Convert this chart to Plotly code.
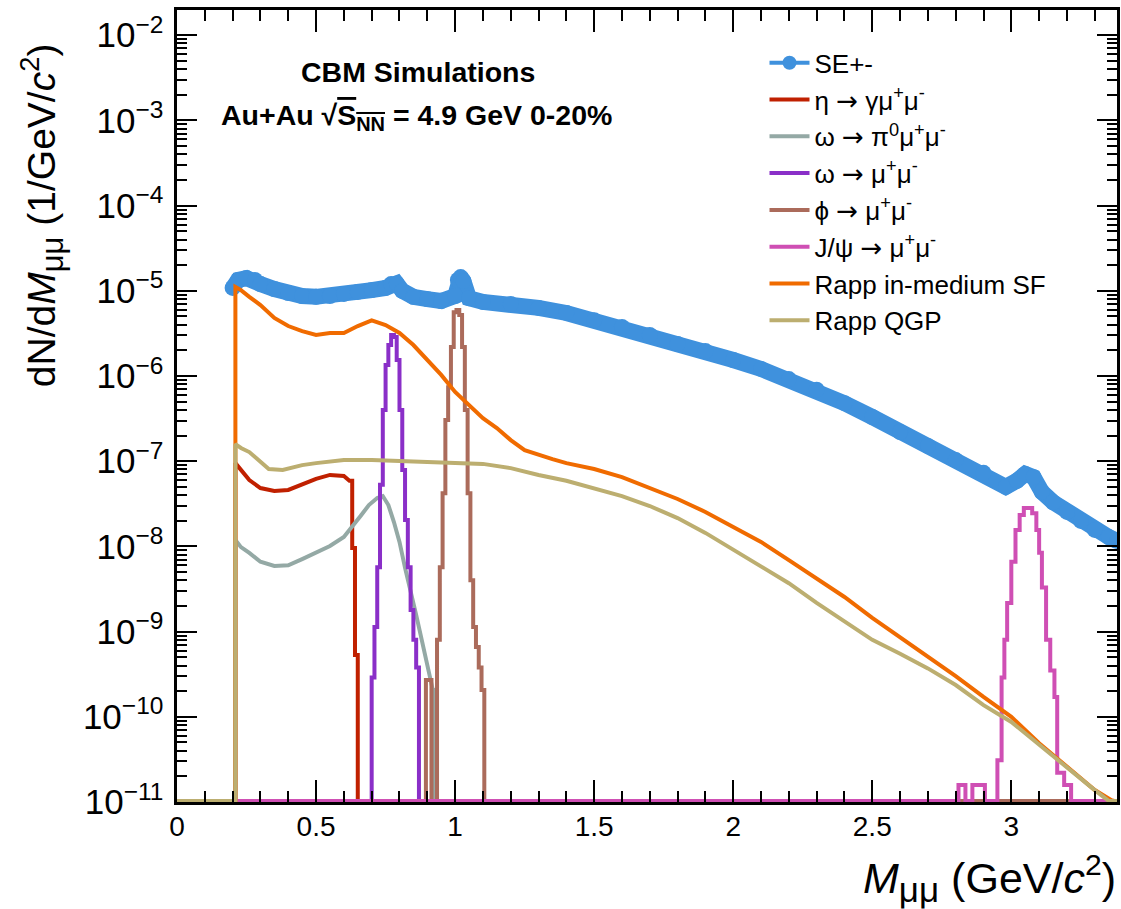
import numpy as np
import plotly.graph_objects as go

# ---------------- data ----------------
# SE+- (same-event unlike sign) spectrum
se_mass = [0.20, 0.22, 0.25, 0.28, 0.30, 0.35, 0.40, 0.45, 0.50, 0.55,
           0.60, 0.65, 0.70, 0.75, 0.77, 0.79, 0.81, 0.85, 0.90, 0.95,
           1.00, 1.01, 1.02, 1.03, 1.05, 1.10, 1.20, 1.30, 1.40, 1.50,
           1.60, 1.70, 1.80, 1.90, 2.00, 2.10, 2.20, 2.30, 2.40, 2.50,
           2.60, 2.70, 2.80, 2.90, 2.98, 3.02, 3.05, 3.08, 3.11, 3.15,
           3.20, 3.25, 3.30, 3.35, 3.38]
se_vals = [1.08e-5, 1.34e-5, 1.41e-5, 1.34e-5, 1.20e-5, 1.05e-5, 9.4e-6, 8.7e-6, 8.5e-6, 8.7e-6,
           9.2e-6, 9.7e-6, 1.02e-5, 1.08e-5, 1.20e-5, 1.22e-5, 1.0e-5, 8.5e-6, 8.0e-6, 7.6e-6,
           8.7e-6, 1.34e-5, 1.45e-5, 1.30e-5, 8.2e-6, 7.4e-6, 7.0e-6, 6.3e-6, 5.5e-6, 4.5e-6,
           3.76e-6, 3.03e-6, 2.38e-6, 1.96e-6, 1.54e-6, 1.21e-6, 9.2e-7, 6.9e-7, 4.8e-7, 3.3e-7,
           2.2e-7, 1.51e-7, 1.03e-7, 7.3e-8, 5.0e-8, 5.9e-8, 7.1e-8, 6.5e-8, 4.35e-8, 3.3e-8,
           2.54e-8, 1.99e-8, 1.56e-8, 1.29e-8, 1.16e-8]

# eta -> gamma mu mu
eta_mass = [0.0, 0.21, 0.21, 0.23, 0.26, 0.30, 0.35, 0.40, 0.45, 0.50,
            0.55, 0.60, 0.62, 0.63, 0.63, 0.64, 0.64, 0.65, 0.65, 3.40]
eta_vals = [0, 0, 9.5e-8, 7.9e-8, 6.0e-8, 4.84e-8, 4.47e-8, 4.6e-8, 5.3e-8, 6.2e-8,
            6.9e-8, 6.7e-8, 5.9e-8, 5.9e-8, 9.6e-9, 9.6e-9, 5.3e-10, 5.3e-10, 0, 0]

# omega -> pi0 mu mu
omd_mass = [0.0, 0.21, 0.21, 0.23, 0.26, 0.30, 0.35, 0.40, 0.45, 0.50,
            0.55, 0.60, 0.63, 0.66, 0.69, 0.72, 0.74, 0.76, 0.78, 0.80,
            0.82, 0.84, 0.86, 0.88, 0.90, 0.92, 0.925, 0.925, 3.40]
omd_vals = [0, 0, 1.19e-8, 9.8e-9, 8.4e-9, 6.6e-9, 5.9e-9, 6.0e-9, 7.1e-9, 8.4e-9,
            1.01e-8, 1.29e-8, 1.69e-8, 2.27e-8, 3.06e-8, 3.7e-8, 3.9e-8, 3.06e-8, 1.93e-8, 1.13e-8,
            5.6e-9, 3.1e-9, 1.57e-9, 8.0e-10, 4.1e-10, 2.06e-10, 2.06e-10, 0, 0]

# omega -> mu mu (bin edges, bin contents)
om_edges = [0.0, 0.70, 0.71, 0.72, 0.73, 0.74, 0.75, 0.76, 0.77, 0.78,
            0.79, 0.80, 0.81, 0.82, 0.83, 0.84, 0.85, 0.86, 0.87, 3.40]
om_vals = [0, 2.9e-10, 1.13e-9, 5.7e-9, 5.3e-8, 4.0e-7, 1.35e-6, 2.31e-6, 3.03e-6, 2.87e-6,
           1.54e-6, 4.0e-7, 7.9e-8, 2.04e-8, 5.7e-9, 1.79e-9, 8.0e-10, 3.8e-10, 0]

# phi -> mu mu
phi_edges = [0.0, 0.895, 0.915, 0.935, 0.945, 0.955, 0.965, 0.975, 0.985, 0.995,
             1.005, 1.015, 1.025, 1.035, 1.045, 1.055, 1.065, 1.075, 1.085, 1.095,
             1.105, 3.40]
phi_vals = [0, 2.7e-10, 0, 8.0e-10, 5.7e-9, 4.2e-8, 3.05e-7, 7.4e-7, 2.19e-6, 5.6e-6,
            5.96e-6, 5.2e-6, 2.19e-6, 4.0e-7, 4.2e-8, 4.0e-9, 1.13e-9, 6.6e-10, 3.8e-10, 2.06e-10,
            0]

# J/psi -> mu mu
jpsi_edges = [0.0, 2.81, 2.835, 2.86, 2.905, 2.95, 2.965, 2.975, 2.985, 3.0,
              3.015, 3.03, 3.045, 3.075, 3.09, 3.10, 3.11, 3.125, 3.14, 3.155,
              3.165, 3.19, 3.215, 3.40]
jpsi_vals = [0, 1.58e-11, 0, 1.58e-11, 0, 3.1e-11, 2.9e-10, 8.0e-10, 2.17e-9, 6.6e-9,
             1.56e-8, 2.34e-8, 2.82e-8, 2.45e-8, 1.56e-8, 8.4e-9, 3.3e-9, 8.0e-10, 3.5e-10, 1.71e-10,
             2.2e-11, 1.58e-11, 0]

# Rapp in-medium spectral function
sf_mass = [0.0, 0.21, 0.21, 0.23, 0.26, 0.30, 0.35, 0.40, 0.45, 0.50,
           0.55, 0.60, 0.65, 0.70, 0.75, 0.80, 0.85, 0.90, 0.95, 1.00,
           1.05, 1.10, 1.15, 1.20, 1.25, 1.30, 1.35, 1.40, 1.50, 1.60,
           1.70, 1.80, 1.90, 2.00, 2.10, 2.20, 2.30, 2.40, 2.50, 2.60,
           2.70, 2.80, 2.90, 3.00, 3.10, 3.20, 3.30, 3.36, 3.37, 3.40]
sf_vals = [0, 0, 1.11e-5, 1.02e-5, 8.5e-6, 6.8e-6, 4.8e-6, 3.86e-6, 3.37e-6, 3.03e-6,
           3.2e-6, 3.2e-6, 3.86e-6, 4.5e-6, 3.97e-6, 3.2e-6, 2.31e-6, 1.54e-6, 1.03e-6, 6.5e-7,
           4.6e-7, 3.2e-7, 2.45e-7, 1.77e-7, 1.35e-7, 1.18e-7, 1.06e-7, 9.5e-8, 8.1e-8, 6.5e-8,
           4.84e-8, 3.6e-8, 2.54e-8, 1.69e-8, 1.13e-8, 6.9e-9, 4.26e-9, 2.55e-9, 1.45e-9, 8.6e-10,
           5.0e-10, 3.0e-10, 1.71e-10, 1.0e-10, 4.9e-11, 2.58e-11, 1.38e-11, 1.05e-11, 0, 0]

# Rapp QGP
qgp_mass = [0.0, 0.21, 0.21, 0.23, 0.26, 0.30, 0.33, 0.38, 0.45, 0.50,
            0.60, 0.70, 0.80, 0.90, 1.00, 1.10, 1.20, 1.30, 1.40, 1.50,
            1.60, 1.70, 1.80, 1.90, 2.00, 2.10, 2.20, 2.30, 2.40, 2.50,
            2.60, 2.70, 2.80, 2.90, 3.00, 3.10, 3.20, 3.30, 3.35, 3.40]
qgp_vals = [0, 0, 1.59e-7, 1.43e-7, 1.28e-7, 9.8e-8, 8.1e-8, 7.9e-8, 9.0e-8, 9.5e-8,
            1.03e-7, 1.03e-7, 1.0e-7, 9.8e-8, 9.5e-8, 9.3e-8, 8.3e-8, 6.9e-8, 5.9e-8, 4.84e-8,
            3.9e-8, 2.98e-8, 2.15e-8, 1.44e-8, 9.1e-9, 5.7e-9, 3.7e-9, 2.17e-9, 1.30e-9, 8.0e-10,
            5.5e-10, 3.7e-10, 2.36e-10, 1.37e-10, 8.7e-11, 4.7e-11, 2.5e-11, 1.38e-11, 0, 0]

ARROW = "<span style='font-family:DejaVu Sans'>→</span>"
labels = ["SE+-", f"η {ARROW} γμ<sup>+</sup>μ<sup>-</sup>", f"ω {ARROW} π<sup>0</sup>μ<sup>+</sup>μ<sup>-</sup>",
          f"ω {ARROW} μ<sup>+</sup>μ<sup>-</sup>", f"ϕ {ARROW} μ<sup>+</sup>μ<sup>-</sup>",
          f"J/ψ {ARROW} μ<sup>+</sup>μ<sup>-</sup>", "Rapp in-medium SF", "Rapp QGP"]
colors = ["#3f91dd", "#c02000", "#94a9a5", "#8a2fc8", "#ab6b5b", "#cf4fb4", "#f06b00", "#bcae70"]

# ---------------- figure ----------------
FLOOR = 1.03e-11  # empty bins drawn on the lower frame edge (log scale)
FONT = "Liberation Sans, Arial, Helvetica, sans-serif"


def floor(v):
    return np.maximum(np.asarray(v, dtype=float), FLOOR)


fig = go.Figure()

# legend entry for SE (thin line + marker)
fig.add_trace(go.Scatter(x=[None], y=[None], mode="lines+markers", name=labels[0],
                         line=dict(color=colors[0], width=4), marker=dict(size=14, color=colors[0])))
# SE band (markers with errors -> thick band)
fig.add_trace(go.Scatter(x=se_mass, y=se_vals, mode="lines+markers", showlegend=False,
                         line=dict(color=colors[0], width=16), marker=dict(size=16, color=colors[0])))

LW = 4
fig.add_trace(go.Scatter(x=eta_mass, y=floor(eta_vals), mode="lines", name=labels[1],
                         line=dict(color=colors[1], width=LW)))
fig.add_trace(go.Scatter(x=omd_mass, y=floor(omd_vals), mode="lines", name=labels[2],
                         line=dict(color=colors[2], width=LW)))
fig.add_trace(go.Scatter(x=om_edges, y=floor(om_vals + [om_vals[-1]]), mode="lines", name=labels[3],
                         line=dict(color=colors[3], width=LW, shape="hv")))
fig.add_trace(go.Scatter(x=phi_edges, y=floor(phi_vals + [phi_vals[-1]]), mode="lines", name=labels[4],
                         line=dict(color=colors[4], width=LW, shape="hv")))
fig.add_trace(go.Scatter(x=jpsi_edges, y=floor(jpsi_vals + [jpsi_vals[-1]]), mode="lines", name=labels[5],
                         line=dict(color=colors[5], width=LW, shape="hv")))
fig.add_trace(go.Scatter(x=sf_mass, y=floor(sf_vals), mode="lines", name=labels[6],
                         line=dict(color=colors[6], width=LW)))
fig.add_trace(go.Scatter(x=qgp_mass, y=floor(qgp_vals), mode="lines", name=labels[7],
                         line=dict(color=colors[7], width=LW)))

axis_common = dict(showline=True, linecolor="black", linewidth=3, mirror="allticks",
                   ticks="inside", tickcolor="black", showgrid=False, zeroline=False,
                   automargin=False,
                   tickfont=dict(family=FONT, size=28, color="black"))

fig.update_xaxes(range=[0, 3.38], dtick=0.5, tick0=0, ticklen=22, tickwidth=2,
                 minor=dict(dtick=0.1, tick0=0, ticks="inside", ticklen=11, tickwidth=2, tickcolor="black"),
                 ticklabelstandoff=-3, **axis_common)
fig.update_yaxes(type="log", range=[-11, -1.704], dtick=1, exponentformat="power",
                 ticklen=20, tickwidth=2,
                 minor=dict(dtick="D1", ticks="inside", ticklen=10, tickwidth=2, tickcolor="black"),
                 ticklabelstandoff=5, **axis_common)

fig.update_layout(
    width=1121, height=909,
    margin=dict(l=177, r=4, t=10, b=107),
    paper_bgcolor="white", plot_bgcolor="white",
    font=dict(family=FONT, color="black"),
    showlegend=True,
    legend=dict(x=0.625, y=0.963, xanchor="left", yanchor="top",
                font=dict(family=FONT, size=26, color="black"),
                bgcolor="rgba(0,0,0,0)", itemwidth=40),
)

# texts
fig.add_annotation(xref="paper", yref="paper", x=0.2564, y=0.9217, showarrow=False,
                   text="<b>CBM Simulations</b>", font=dict(family=FONT, size=28.5, color="black"),
                   xanchor="center", yanchor="middle")
fig.add_annotation(xref="paper", yref="paper", x=0.2553, y=0.8649, showarrow=False,
                   text="<b>Au+Au √<span style='text-decoration:overline'>S<sub>NN</sub></span> = 4.9 GeV 0-20%</b>",
                   font=dict(family=FONT, size=28.5, color="black"),
                   xanchor="center", yanchor="middle")
# axis titles
fig.add_annotation(xref="paper", yref="paper", x=-0.1436, y=0.741, showarrow=False,
                   text="dN/d<i>M</i><sub><span style='font-size:31px'>μμ</span></sub> (1/GeV/<i>c</i><sup>2</sup>)",
                   textangle=-90,
                   font=dict(family=FONT, size=39, color="black"),
                   xanchor="center", yanchor="middle")
fig.add_annotation(xref="paper", yref="paper", x=1.001, y=-0.096, showarrow=False,
                   text="<i>M</i><sub><span style='font-size:35px'>μμ</span></sub> (GeV/<i>c</i><sup>2</sup>)",
                   font=dict(family=FONT, size=43, color="black"),
                   xanchor="right", yanchor="middle")

fig.write_html("out.html", config={"displayModeBar": False},
               post_script="document.body.style.margin='0';")
